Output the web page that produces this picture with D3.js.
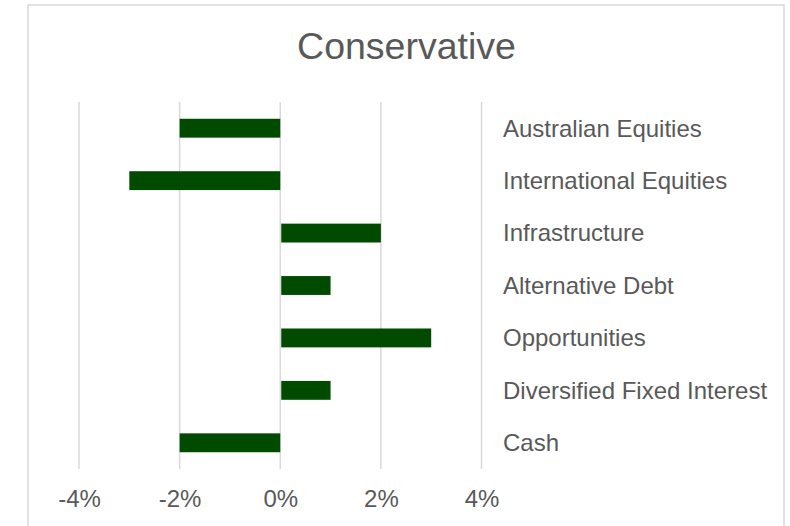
<!DOCTYPE html>
<html>
<head>
<meta charset="utf-8">
<script src="https://cdn.jsdelivr.net/npm/d3@7"></script>
<style>
  html, body { margin: 0; padding: 0; background: #fff; }
  svg { display: block; font-family: "Liberation Sans", Arial, sans-serif; }
</style>
</head>
<body>
<svg id="chart" width="790" height="526"></svg>
<script>
// Asset-class tilts for the Conservative portfolio (percentage points)
const categories = [
  "Australian Equities",
  "International Equities",
  "Infrastructure",
  "Alternative Debt",
  "Opportunities",
  "Diversified Fixed Interest",
  "Cash"
];
const values = [-2, -3, 2, 1, 3, 1, -2];
const tickValues = [-4, -2, 0, 2, 4];
const tickLabels = ["-4%", "-2%", "0%", "2%", "4%"];
const title = "Conservative";

const svg = d3.select("#chart");
const W = 790, H = 526;

// Chart area frame (open at the bottom edge of the window)
svg.append("rect")
  .attr("x", 28).attr("y", 5)
  .attr("width", 756).attr("height", H + 10)
  .attr("fill", "#fff")
  .attr("stroke", "#d9d9d9")
  .attr("stroke-width", 1.5);

svg.append("text")
  .attr("x", 406.5).attr("y", 58.5)
  .attr("text-anchor", "middle")
  .attr("fill", "#595959")
  .attr("font-size", 37.5)
  .text(title);

const plot = { left: 79, right: 481.5, top: 102, bottom: 469 };

const x = d3.scaleLinear().domain([-4, 4]).range([plot.left, plot.right]);
const y = d3.scaleBand().domain(categories)
  .range([plot.top, plot.bottom])
  .paddingInner(0.64).paddingOuter(0.32);

// Vertical gridlines
svg.append("g").selectAll("line")
  .data(tickValues)
  .join("line")
  .attr("x1", d => x(d)).attr("x2", d => x(d))
  .attr("y1", plot.top).attr("y2", plot.bottom)
  .attr("stroke", "#d9d9d9")
  .attr("stroke-width", 1.5);

// Bars
svg.append("g").selectAll("rect")
  .data(categories.map((c, i) => ({ c, v: values[i] })))
  .join("rect")
  .attr("x", d => x(Math.min(0, d.v)) + (d.v > 0 ? 1 : 0))
  .attr("width", d => Math.abs(x(d.v) - x(0)) - (d.v > 0 ? 1 : 0))
  .attr("y", d => y(d.c))
  .attr("height", y.bandwidth())
  .attr("fill", "#004b00");

// Category labels to the right of the plot
svg.append("g").selectAll("text")
  .data(categories)
  .join("text")
  .attr("x", 503)
  .attr("y", d => y(d) + y.bandwidth() / 2)
  .attr("dy", "0.35em")
  .attr("fill", "#595959")
  .attr("font-size", 24)
  .text(d => d);

// Value axis labels
const axis = d3.axisBottom(x)
  .tickValues(tickValues)
  .tickFormat((d, i) => tickLabels[i])
  .tickSize(0)
  .tickPadding(0);
const gAxis = svg.append("g")
  .attr("transform", `translate(0, 490)`)
  .call(axis);
gAxis.select(".domain").remove();
gAxis.selectAll("text")
  .attr("fill", "#595959")
  .attr("font-size", 24)
  .attr("font-family", "Liberation Sans, Arial, sans-serif")
  .attr("dy", "0.71em");
</script>
</body>
</html>
